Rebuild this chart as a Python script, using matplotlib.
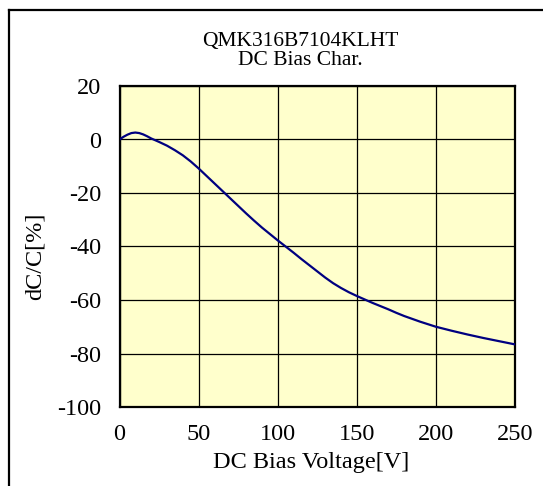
import matplotlib.pyplot as plt
from matplotlib.lines import Line2D

# dati
volt = [0, 2.5, 5, 7.5, 10, 12.5, 15, 17.5, 20, 25, 30, 35, 40, 45, 50, 55, 60,
        65, 70, 75, 80, 85, 90, 95, 100, 105, 110, 115, 120, 125, 130, 135, 140,
        145, 150, 155, 160, 165, 170, 175, 180, 190, 200, 210, 220, 230, 240, 250]
dcc = [0, 1.0, 1.8, 2.4, 2.6, 2.4, 1.9, 1.2, 0.4, -0.9, -2.3, -4.0, -5.9, -8.2,
       -10.8, -13.6, -16.4, -19.2, -22.0, -24.8, -27.6, -30.3, -32.9, -35.3,
       -37.7, -40.0, -42.3, -44.7, -47.0, -49.3, -51.6, -53.7, -55.5, -57.1,
       -58.5, -59.8, -61.1, -62.3, -63.5, -64.8, -66.0, -68.1, -70.0, -71.5,
       -72.9, -74.2, -75.4, -76.6]
xticks = [0, 50, 100, 150, 200, 250]
yticks = [-100, -80, -60, -40, -20, 0, 20]
ylabels = ['-100', '-80', '-60', '-40', '-20', '0', '20']

plt.rcParams['font.family'] = ['Liberation Serif', 'DejaVu Serif']
fs = 17.5

fig = plt.figure(figsize=(5.43, 4.86), dpi=100)
ax = fig.add_axes([119.5/543, 1 - 407/486, (515 - 119.5)/543, (407 - 86)/486])
ax.set_facecolor('#FFFFCC')
ax.plot(volt, dcc, color='#000080', lw=1.6, zorder=3, solid_joinstyle='round')
ax.set_xlim(0, 250)
ax.set_ylim(-100, 20)
ax.set_xticks(xticks)
ax.set_yticks(yticks, ylabels)
ax.grid(color='black', lw=0.9)
ax.tick_params(length=0, labelsize=fs)
ax.tick_params(axis='x', pad=12)
ax.tick_params(axis='y', pad=13)
for s in ax.spines.values():
    s.set_linewidth(1.6)

# titolo e etichette
fig.text(300/543, 1 - 46/486, 'QMK316B7104KLHT', ha='center', va='baseline', fontsize=15.5)
fig.text(300/543, 1 - 65/486, 'DC Bias Char.', ha='center', va='baseline', fontsize=15.5)
fig.text(311/543, 1 - 462/486, 'DC Bias Voltage[V]', ha='center', va='center', fontsize=fs)
fig.text(35/543, 1 - 256/486, 'dC/C[%]', ha='center', va='center', rotation=90, fontsize=fs)

# cornice
fig.add_artist(Line2D([8.5/543, 1], [1 - 10.5/486, 1 - 10.5/486], color='black', lw=1.6))
fig.add_artist(Line2D([8.5/543, 8.5/543], [0, 1 - 10.5/486], color='black', lw=1.6))

fig.savefig('out.png', dpi=100)
